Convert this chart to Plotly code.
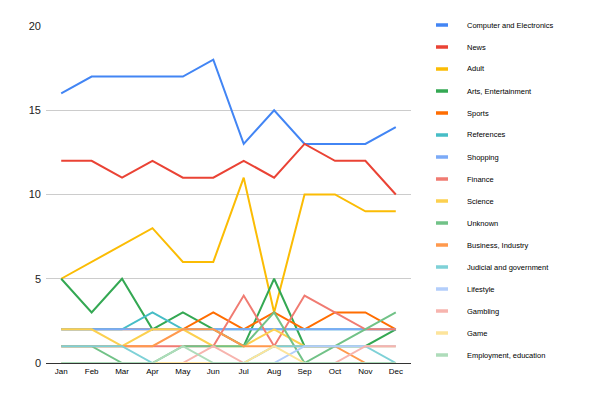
import plotly.graph_objects as go

months = ["Jan", "Feb", "Mar", "Apr", "May", "Jun", "Jul", "Aug", "Sep", "Oct", "Nov", "Dec"]

names = [
    "Computer and Electronics", "News", "Adult", "Arts, Entertainment", "Sports",
    "References", "Shopping", "Finance", "Science", "Unknown", "Business, Industry",
    "Judicial and government", "Lifestyle", "Gambling", "Game", "Employment, education",
]

colors = [
    "#4285F4", "#EA4335", "#FBBC04", "#34A853", "#FF6D01", "#46BDC6", "#7BAAF7", "#F07B72",
    "#FCD04F", "#71C287", "#FF994D", "#7ED1D7", "#B3CEFB", "#F7B4AE", "#FDE49B", "#AEDCBA",
]

computer = [16, 17, 17, 17, 17, 18, 13, 15, 13, 13, 13, 14]
news = [12, 12, 11, 12, 11, 11, 12, 11, 13, 12, 12, 10]
adult = [5, 6, 7, 8, 6, 6, 11, 3, 10, 10, 9, 9]
arts = [5, 3, 5, 2, 3, 2, 1, 5, 1, 1, 1, 2]
sports = [2, 2, 2, 2, 2, 3, 2, 3, 2, 3, 3, 2]
references = [2, 2, 2, 3, 2, 2, 2, 2, 2, 2, 2, 2]
shopping = [2, 2, 2, 2, 2, 2, 2, 2, 2, 2, 2, 2]
finance = [1, 1, 1, 1, 1, 1, 4, 1, 4, 3, 2, 2]
science = [2, 2, 1, 2, 2, 1, 1, 2, 1, 1, 1, 1]
unknown = [1, 1, 0, 0, 1, 1, 1, 3, 0, 1, 2, 3]
business = [1, 1, 1, 1, 2, 2, 1, 1, 1, 1, 0, 0]
judicial = [1, 1, 1, 0, 0, 0, 0, 1, 1, 1, 1, 0]
lifestyle = [0, 0, 0, 0, 0, 0, 0, 0, 1, 1, 1, 1]
gambling = [0, 0, 0, 0, 0, 1, 0, 0, 0, 0, 1, 1]
game = [0, 0, 0, 0, 0, 0, 0, 1, 0, 0, 0, 0]
employment = [0, 0, 0, 0, 1, 0, 0, 0, 0, 0, 0, 0]

y_ticks = [0, 5, 10, 15, 20]

series = [computer, news, adult, arts, sports, references, shopping, finance,
          science, unknown, business, judicial, lifestyle, gambling, game, employment]

# page has an 8px body margin; figure coordinates = screen coordinates - 8
OFF = 8
W, H = 600 - OFF, 398 - OFF
ML, MT = 46 - OFF, 26 - OFF
PR, PB = 411 - OFF, 363 - OFF
MR, MB = W - PR, H - PB
pw, ph = PR - ML, PB - MT

fig = go.Figure()
for name, col, vals in zip(names, colors, series):
    fig.add_trace(go.Scatter(x=months, y=vals, name=name, mode="lines",
                             line=dict(color=col, width=2), showlegend=False))

# manual legend
shapes = []
annotations = []
for i, (name, col) in enumerate(zip(names, colors)):
    yc = 25 + 22 * i - OFF
    yp = (PB - yc) / ph
    x0 = (436 - OFF - ML) / pw
    x1 = (448 - OFF - ML) / pw
    dy = 1.75 / ph
    shapes.append(dict(type="rect", xref="paper", yref="paper", x0=x0, x1=x1,
                       y0=yp - dy, y1=yp + dy, fillcolor=col, line=dict(width=0)))
    annotations.append(dict(xref="paper", yref="paper", x=(467 - OFF - ML) / pw, y=yp,
                            text=name, showarrow=False, xanchor="left", yanchor="middle",
                            xshift=-2,
                            font=dict(family="Arial, Liberation Sans", size=7.5, color="#000000")))

fig.update_layout(
    width=W, height=H,
    margin=dict(l=ML, r=MR, t=MT, b=MB, pad=0),
    paper_bgcolor="white", plot_bgcolor="white",
    shapes=shapes, annotations=annotations,
    xaxis=dict(type="category", range=[-0.5, 11.5], showgrid=False, zeroline=False,
               showline=False, ticks="", ticklabelstandoff=2,
               tickfont=dict(family="Arial, Liberation Sans", size=8, color="#000000")),
    yaxis=dict(range=[0, 20], tickvals=y_ticks, showgrid=True, gridcolor="#cccccc", gridwidth=1,
               zeroline=True, zerolinecolor="#333333", zerolinewidth=1, showline=False,
               ticks="", ticklabelstandoff=4,
               tickfont=dict(family="Arial, Liberation Sans", size=11, color="#222222")),
)

fig.write_html("out.html")
